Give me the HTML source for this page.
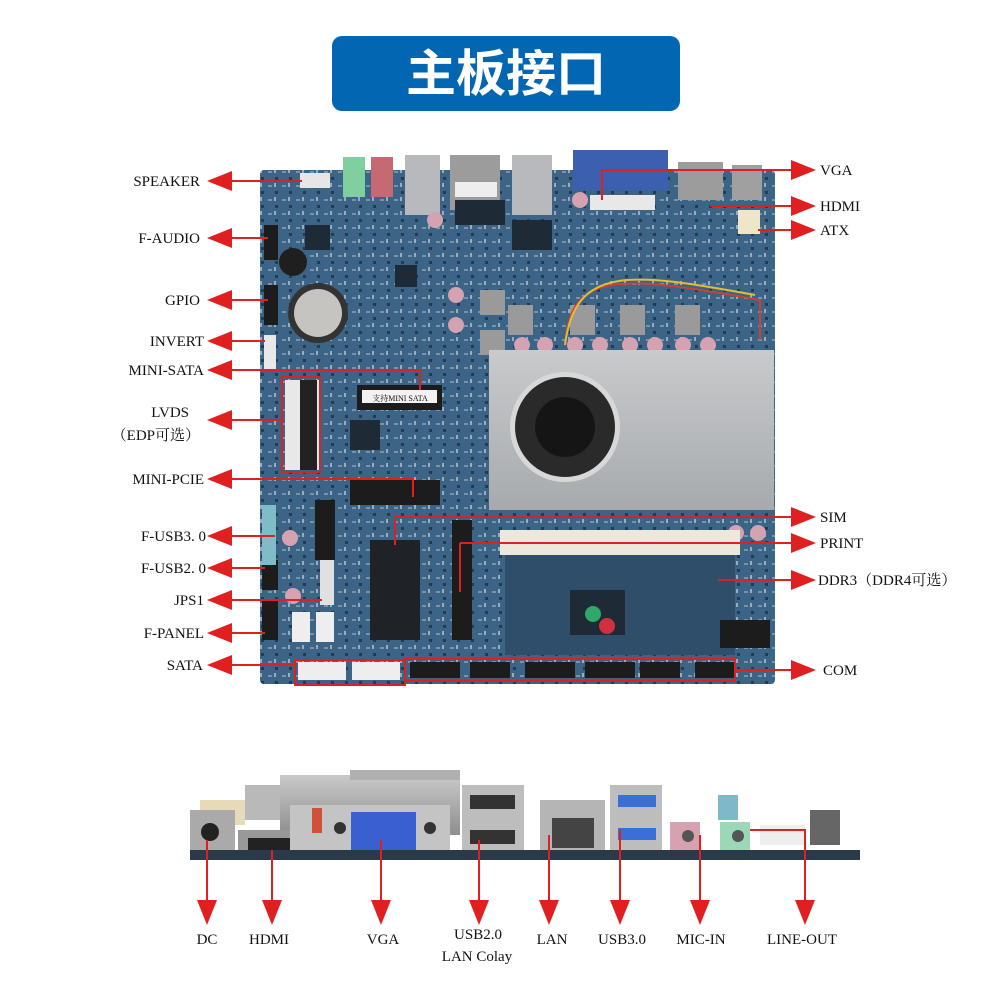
<!DOCTYPE html>
<html><head><meta charset="utf-8"><style>
html,body{margin:0;padding:0;background:#fff;}
svg{display:block;}
text{font-family:"Liberation Serif","Noto Serif CJK SC",serif;font-size:15px;fill:#111;}
</style></head><body>
<svg width="1000" height="1000" viewBox="0 0 1000 1000" xmlns="http://www.w3.org/2000/svg">
<defs>
<pattern id="pcb" width="14" height="14" patternUnits="userSpaceOnUse">
<rect width="14" height="14" fill="#3c6486"/>
<rect x="2" y="3" width="4" height="2" fill="#7b93a8"/>
<rect x="9" y="9" width="3" height="3" fill="#223b52"/>
<rect x="8" y="1" width="2" height="4" fill="#9aacbc"/>
</pattern>
<linearGradient id="hs" x1="0" y1="0" x2="0" y2="1"><stop offset="0" stop-color="#c8cacc"/><stop offset="1" stop-color="#a7aaad"/></linearGradient>
<linearGradient id="bb" x1="0" y1="0" x2="0" y2="1"><stop offset="0" stop-color="#c9c9c9"/><stop offset="1" stop-color="#8e8e8e"/></linearGradient>
</defs>

<rect x="332" y="36" width="348" height="75" rx="10" fill="#0366b3"/>
<text x="506" y="91" text-anchor="middle" style="font-family:'Noto Sans CJK SC',sans-serif;font-size:50px;font-weight:bold;fill:#fff">主板接口</text>

<rect x="260" y="170" width="515" height="514" rx="4" fill="url(#pcb)"/>
<rect x="343" y="157" width="22" height="40" fill="#7fcf9f"/>
<rect x="371" y="157" width="22" height="40" fill="#c56a72"/>
<rect x="405" y="155" width="35" height="60" fill="#b7b9bc"/>
<rect x="450" y="155" width="50" height="55" fill="#9c9c9c"/>
<rect x="455" y="182" width="42" height="15" fill="#eee"/>
<rect x="512" y="155" width="40" height="60" fill="#b7b9bc"/>
<rect x="573" y="150" width="95" height="40" fill="#3c5fb0"/>
<rect x="590" y="195" width="65" height="15" fill="#e8e8e8"/>
<rect x="678" y="162" width="45" height="38" fill="#9c9c9c"/>
<rect x="732" y="165" width="30" height="35" fill="#a0a0a0"/>
<rect x="738" y="210" width="22" height="24" fill="#efe6c8"/>
<rect x="300" y="173" width="30" height="15" fill="#e6e6e6"/>
<circle cx="318" cy="313" r="30" fill="#333"/>
<circle cx="318" cy="313" r="24" fill="#c6c4c0"/>
<circle cx="293" cy="262" r="14" fill="#1f1f1f"/>
<rect x="305" y="225" width="25" height="25" fill="#1e2a36"/>
<rect x="395" y="265" width="22" height="22" fill="#1e2a36"/>
<rect x="350" y="420" width="30" height="30" fill="#1e2a36"/>
<rect x="455" y="200" width="50" height="25" fill="#1e2a36"/>
<rect x="512" y="220" width="40" height="30" fill="#1e2a36"/>
<g fill="#9a9a9a"><rect x="508" y="305" width="25" height="30"/><rect x="570" y="305" width="25" height="30"/><rect x="620" y="305" width="25" height="30"/><rect x="675" y="305" width="25" height="30"/><rect x="480" y="290" width="25" height="25"/><rect x="480" y="330" width="25" height="25"/></g>
<g fill="#d4a2b0"><circle cx="522" cy="345" r="8"/><circle cx="545" cy="345" r="8"/><circle cx="575" cy="345" r="8"/><circle cx="600" cy="345" r="8"/><circle cx="630" cy="345" r="8"/><circle cx="655" cy="345" r="8"/><circle cx="683" cy="345" r="8"/><circle cx="708" cy="345" r="8"/><circle cx="456" cy="295" r="8"/><circle cx="456" cy="325" r="8"/><circle cx="580" cy="200" r="8"/><circle cx="736" cy="533" r="8"/><circle cx="758" cy="533" r="8"/><circle cx="290" cy="538" r="8"/><circle cx="293" cy="596" r="8"/><circle cx="435" cy="220" r="8"/></g>
<path d="M565 345 C570 270, 620 275, 760 300 L760 340" stroke="#d04030" stroke-width="2" fill="none"/>
<path d="M565 345 C575 265, 630 272, 755 295" stroke="#e0c030" stroke-width="2" fill="none"/>
<rect x="489" y="350" width="285" height="160" fill="url(#hs)"/>
<circle cx="565" cy="427" r="55" fill="#d8d8d8"/>
<circle cx="565" cy="427" r="50" fill="#2a2a2a"/>
<circle cx="565" cy="427" r="30" fill="#151515"/>
<rect x="500" y="530" width="240" height="25" fill="#ece8dc"/>
<rect x="505" y="555" width="230" height="100" fill="#2f4e6a"/>
<rect x="570" y="590" width="55" height="45" fill="#1e2a36"/>
<circle cx="593" cy="614" r="8" fill="#2fa86a"/><circle cx="607" cy="626" r="8" fill="#d03040"/>
<rect x="357" y="385" width="85" height="25" fill="#1c1c1c"/>
<rect x="362" y="390" width="75" height="13" fill="#f2f2f2"/>
<text x="400" y="401" text-anchor="middle" style="font-size:8px">支持MINI SATA</text>
<rect x="350" y="480" width="90" height="25" fill="#1c1c1c"/>
<rect x="285" y="380" width="34" height="90" fill="#e8e8e8"/>
<rect x="300" y="380" width="17" height="90" fill="#222"/>
<g fill="#1c1c1c"><rect x="264" y="225" width="14" height="35"/><rect x="264" y="285" width="14" height="40"/><rect x="262" y="560" width="16" height="30"/><rect x="262" y="600" width="16" height="40"/><rect x="315" y="500" width="20" height="60"/><rect x="452" y="520" width="20" height="120"/></g>
<rect x="264" y="335" width="12" height="35" fill="#e8e8e8"/>
<rect x="262" y="505" width="14" height="60" fill="#7fbcc8"/>
<rect x="320" y="560" width="14" height="45" fill="#e0e0e0"/>
<rect x="292" y="612" width="18" height="30" fill="#eee"/><rect x="316" y="612" width="18" height="30" fill="#eee"/>
<rect x="370" y="540" width="50" height="100" fill="#1f2328"/>
<rect x="720" y="620" width="50" height="28" fill="#1c1c1c"/>
<rect x="298" y="662" width="48" height="18" fill="#eee"/><rect x="352" y="662" width="48" height="18" fill="#eee"/>
<g fill="#1c1c1c"><rect x="410" y="662" width="50" height="16"/><rect x="470" y="662" width="40" height="16"/><rect x="525" y="662" width="50" height="16"/><rect x="585" y="662" width="50" height="16"/><rect x="640" y="662" width="40" height="16"/><rect x="695" y="662" width="40" height="16"/></g>

<g fill="none" stroke="#e02020" stroke-width="2">
<rect x="282" y="377" width="38" height="95"/>
<rect x="295" y="660" width="110" height="25"/>
<rect x="405" y="659" width="330" height="22"/>
</g>

<g stroke="#e02020" stroke-width="2" fill="none">
<path d="M230 181 H302"/><path d="M230 238 H268"/><path d="M230 300 H268"/><path d="M230 341 H265"/>
<path d="M230 370 H420 V390"/><path d="M230 420 H282"/><path d="M230 479 H413 V497"/>
<path d="M230 536 H275"/><path d="M230 568 H265"/><path d="M230 600 H322"/><path d="M230 633 H265"/><path d="M230 665 H295"/>
<path d="M602 170 H795 M602 170 V200"/><path d="M710 206 H795"/><path d="M758 230 H795"/>
<path d="M395 517 H795 M395 517 V545"/><path d="M460 543 H795 M460 543 V592"/><path d="M718 580 H795"/><path d="M735 670 H795"/>
</g>
<g fill="#e02020">
<polygon points="207,181 232,171 232,191"/><polygon points="207,238 232,228 232,248"/><polygon points="207,300 232,290 232,310"/><polygon points="207,341 232,331 232,351"/>
<polygon points="207,370 232,360 232,380"/><polygon points="207,420 232,410 232,430"/><polygon points="207,479 232,469 232,489"/><polygon points="207,536 232,526 232,546"/>
<polygon points="207,568 232,558 232,578"/><polygon points="207,600 232,590 232,610"/><polygon points="207,633 232,623 232,643"/><polygon points="207,665 232,655 232,675"/>
<polygon points="816,170 791,160 791,180"/><polygon points="816,206 791,196 791,216"/><polygon points="816,230 791,220 791,240"/>
<polygon points="816,517 791,507 791,527"/><polygon points="816,543 791,533 791,553"/><polygon points="816,580 791,570 791,590"/><polygon points="816,670 791,660 791,680"/>
</g>
<g text-anchor="end">
<text x="200" y="186">SPEAKER</text><text x="200" y="243">F-AUDIO</text><text x="200" y="305">GPIO</text><text x="204" y="346">INVERT</text>
<text x="204" y="375">MINI-SATA</text><text x="189" y="417">LVDS</text><text x="200" y="440">（EDP可选）</text><text x="204" y="484">MINI-PCIE</text>
<text x="206" y="541">F-USB3. 0</text><text x="206" y="573">F-USB2. 0</text><text x="204" y="605">JPS1</text><text x="204" y="638">F-PANEL</text><text x="203" y="670">SATA</text>
</g>
<text x="820" y="175">VGA</text><text x="820" y="211">HDMI</text><text x="820" y="235">ATX</text>
<text x="820" y="522">SIM</text><text x="820" y="548">PRINT</text><text x="818" y="585">DDR3（DDR4可选）</text><text x="823" y="675">COM</text>

<rect x="245" y="785" width="45" height="35" fill="#b9b9b9"/>
<rect x="280" y="775" width="180" height="60" fill="url(#bb)"/>
<rect x="350" y="770" width="110" height="10" fill="#b0b0b0"/>
<rect x="200" y="800" width="45" height="25" fill="#e6dab8"/>
<rect x="190" y="810" width="45" height="50" fill="#aaa"/>
<circle cx="210" cy="832" r="9" fill="#222"/>
<rect x="238" y="830" width="62" height="28" fill="#999"/><rect x="248" y="838" width="45" height="12" fill="#222"/>
<rect x="290" y="805" width="160" height="45" fill="#c4c4c4"/>
<rect x="312" y="808" width="10" height="25" fill="#d0503a"/>
<rect x="351" y="812" width="65" height="38" fill="#3a5fd0"/>
<circle cx="340" cy="828" r="6" fill="#333"/><circle cx="430" cy="828" r="6" fill="#333"/>
<rect x="462" y="785" width="62" height="70" fill="#bdbdbd"/><rect x="470" y="795" width="45" height="14" fill="#333"/><rect x="470" y="830" width="45" height="14" fill="#333"/>
<rect x="540" y="800" width="65" height="55" fill="#b5b5b5"/><rect x="552" y="818" width="42" height="30" fill="#444"/>
<rect x="610" y="785" width="52" height="70" fill="#bdbdbd"/><rect x="618" y="795" width="38" height="12" fill="#3a6fd8"/><rect x="618" y="828" width="38" height="12" fill="#3a6fd8"/>
<rect x="670" y="822" width="30" height="28" fill="#d7a2b0"/><circle cx="688" cy="836" r="6" fill="#555"/>
<rect x="720" y="822" width="30" height="28" fill="#9ad8b8"/><circle cx="738" cy="836" r="6" fill="#555"/>
<rect x="718" y="795" width="20" height="25" fill="#7fb8c8"/>
<rect x="760" y="825" width="45" height="20" fill="#eee"/>
<rect x="810" y="810" width="30" height="35" fill="#666"/>
<rect x="190" y="850" width="670" height="10" fill="#2a3a4a"/>

<g stroke="#e02020" stroke-width="2" fill="none">
<path d="M207 840 V905"/><path d="M272 850 V905"/><path d="M381 840 V905"/><path d="M479 840 V905"/><path d="M549 835 V905"/><path d="M620 830 V905"/><path d="M700 835 V905"/><path d="M750 830 H805 V905"/>
</g>
<g fill="#e02020">
<polygon points="207,925 197,900 217,900"/><polygon points="272,925 262,900 282,900"/><polygon points="381,925 371,900 391,900"/><polygon points="479,925 469,900 489,900"/>
<polygon points="549,925 539,900 559,900"/><polygon points="620,925 610,900 630,900"/><polygon points="700,925 690,900 710,900"/><polygon points="805,925 795,900 815,900"/>
</g>
<g style="font-size:16px" text-anchor="middle">
<text x="207" y="944">DC</text><text x="269" y="944">HDMI</text><text x="383" y="944">VGA</text><text x="478" y="939">USB2.0</text><text x="477" y="961">LAN Colay</text>
<text x="552" y="944">LAN</text><text x="622" y="944">USB3.0</text><text x="701" y="944">MIC-IN</text><text x="802" y="944">LINE-OUT</text>
</g>
</svg>
</body></html>
